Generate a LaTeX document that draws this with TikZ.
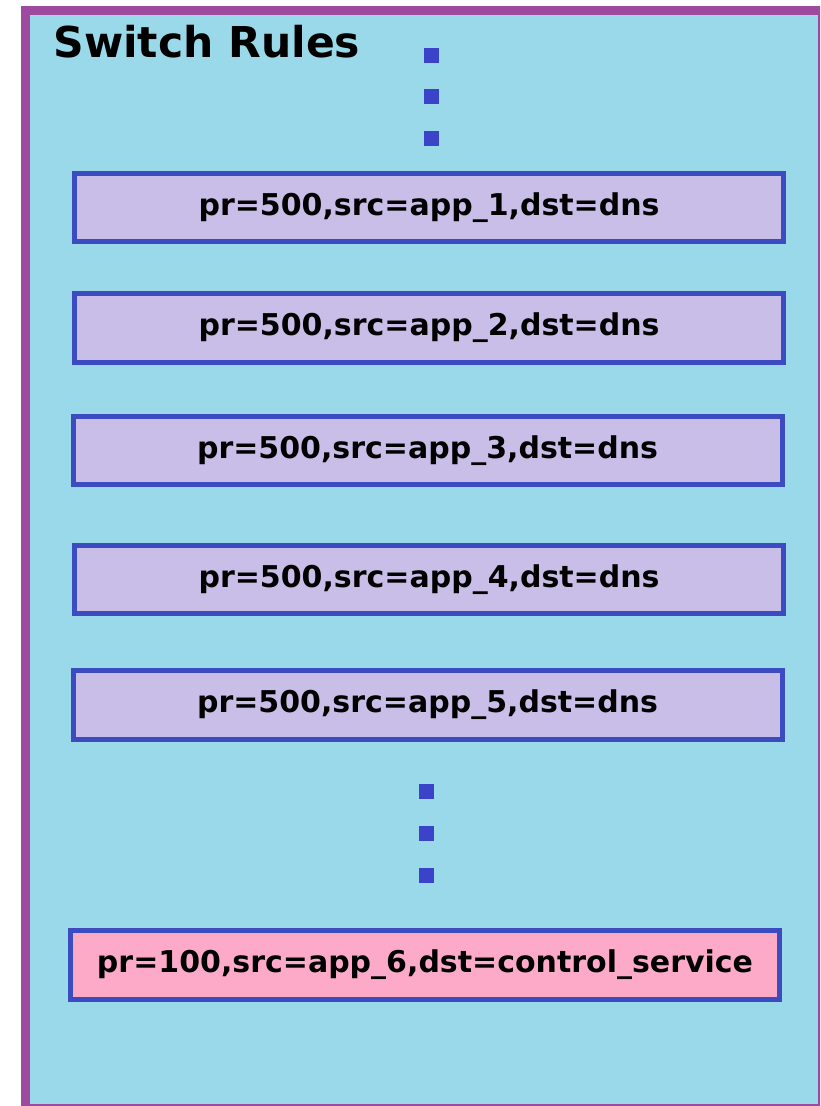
\documentclass[tikz,border=0pt]{standalone}
\usepackage{fontspec}
\setmainfont{DejaVu Sans}
\definecolor{panelfill}{HTML}{9AD9E9}
\definecolor{panelframe}{HTML}{9E4A9E}
\definecolor{ruleedge}{HTML}{3D4BC0}
\definecolor{rulefill}{HTML}{C8BEE8}
\definecolor{defaultfill}{HTML}{FDAAC9}
\definecolor{dotblue}{HTML}{3B44C8}
\begin{document}
\begin{tikzpicture}[x=1pt,y=-1pt,
  rulebox/.style={draw=ruleedge, line width=5pt, fill=rulefill,
    minimum width=709pt, minimum height=68.5pt, inner sep=0pt,
    font=\fontsize{30}{36}\selectfont\bfseries},
  defaultbox/.style={rulebox, fill=defaultfill},
  gapdot/.style={fill=dotblue, draw=none, minimum size=15pt, inner sep=0pt}]
  \useasboundingbox (0,0) rectangle (820,1106);
  \begin{scope}
    \clip (0,0) rectangle (820,1106);
    % outer panel
    \draw[panelframe, line width=9pt, fill=panelfill] (25.5,10) rectangle (822,1108);
  \end{scope}
  \node[anchor=base west, font=\fontsize{42.5}{50}\selectfont\bfseries] (title) at (50,57) {Switch Rules};
  % ellipsis above the listed rules
  \node[gapdot] (d1) at (431,55) {};
  \node[gapdot] (d2) at (431,96) {};
  \node[gapdot] (d3) at (431,138) {};
  % rules
  \node[rulebox] (r1) at (429,207.5) {pr=500,src=app\_1,dst=dns};
  \node[rulebox] (r2) at (429,328) {pr=500,src=app\_2,dst=dns};
  \node[rulebox] (r3) at (427.5,450.5) {pr=500,src=app\_3,dst=dns};
  \node[rulebox] (r4) at (429,579.5) {pr=500,src=app\_4,dst=dns};
  \node[rulebox] (r5) at (427.5,705) {pr=500,src=app\_5,dst=dns};
  % ellipsis below
  \node[gapdot] (d4) at (426,791) {};
  \node[gapdot] (d5) at (426,833) {};
  \node[gapdot] (d6) at (426,875) {};
  % low-priority rule
  \node[defaultbox] (r6) at (425,965) {pr=100,src=app\_6,dst=control\_service};
\end{tikzpicture}
\end{document}
